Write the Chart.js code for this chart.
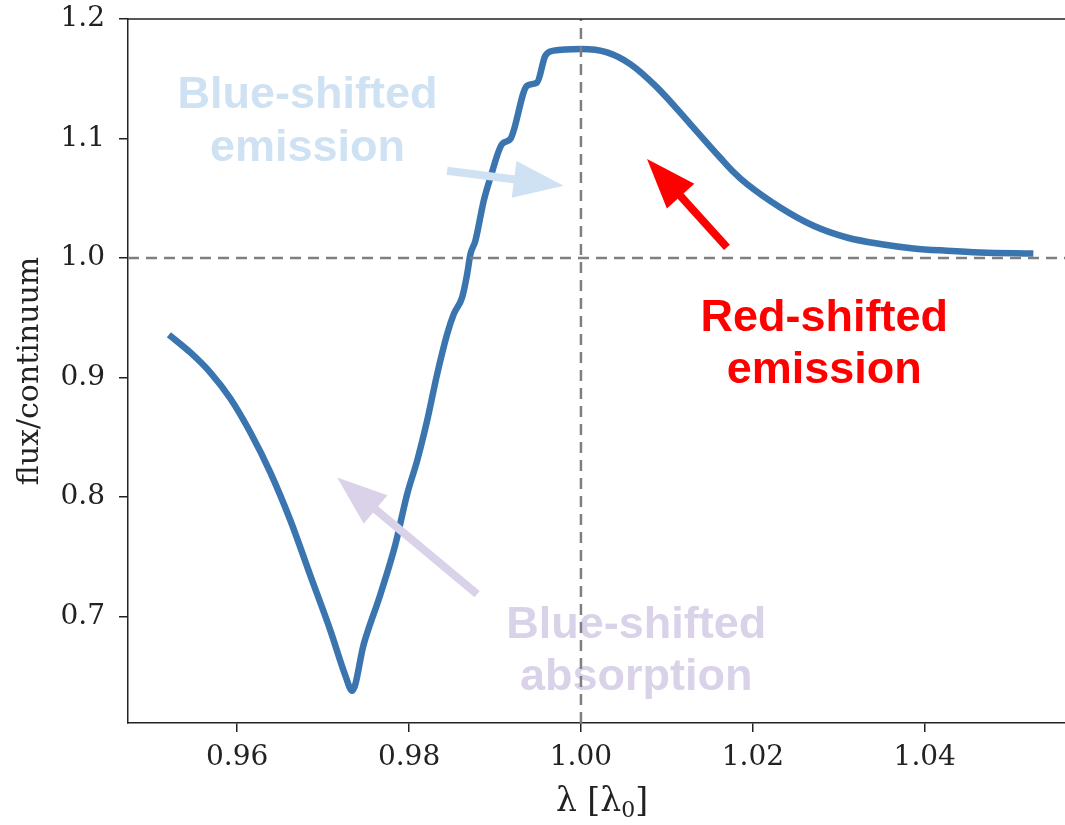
<!DOCTYPE html>
<html>
<head>
<meta charset="utf-8">
<script src="https://cdn.jsdelivr.net/npm/chart.js@4.4.1/dist/chart.umd.min.js"></script>
<style>
html,body{margin:0;padding:0;background:#fff;overflow:hidden;}
canvas{display:block;}
</style>
</head>
<body>
<canvas id="c" width="1077" height="825"></canvas>
<script>
// ---- data ----
const wavelength = [0.95206,0.95458,0.95691,0.95923,0.96156,0.96388,0.96621,0.96853,0.97086,0.97260,0.97338,0.97473,0.97667,0.97842,0.97978,0.98094,0.98210,0.98327,0.98443,0.98520,0.98617,0.98676,0.98714,0.98772,0.98869,0.98947,0.99083,0.99179,0.99373,0.99490,0.99586,0.99683,1.00000,1.00303,1.00574,1.00885,1.01272,1.01621,1.01772,1.01931,1.02319,1.02706,1.03094,1.03481,1.03869,1.04257,1.04644,1.05264];
const flux = [0.9358,0.9208,0.9040,0.8823,0.8538,0.8203,0.7802,0.7341,0.6881,0.6505,0.6379,0.6770,0.7188,0.7607,0.8025,0.8304,0.8638,0.9029,0.9364,0.9531,0.9670,0.9866,1.0033,1.0145,1.0480,1.0674,1.0954,1.0996,1.1442,1.1469,1.1693,1.1735,1.1749,1.1721,1.1623,1.1428,1.1121,1.0839,1.0722,1.0619,1.0423,1.0270,1.0172,1.0117,1.0080,1.0061,1.0047,1.0038];
const xTicks = [0.96, 0.98, 1.00, 1.02, 1.04];
const yTicks = [0.7, 0.8, 0.9, 1.0, 1.1, 1.2];
const xRange = [0.9473, 1.0576];
const yRange = [0.611, 1.2];
const refLambda = 1.0;
const refFlux = 1.0;

// annotation labels (data coordinates)
const labelLines = [["Blue-shifted","emission"],["Blue-shifted","absorption"],["Red-shifted","emission"]];
const labelX = [0.96819, 1.00644, 1.02830];
const labelY = [[1.1358,1.0915],[0.6923,0.6488],[0.9492,0.9057]];
const labelColor = ["#cfe2f3","#d9d2e9","#ff0000"];
// arrows: tail -> tip (data coordinates)
const arrowTail = [[0.98443,1.0731],[0.98792,0.7188],[1.01699,1.0089]];
const arrowTip  = [[0.99799,1.0605],[0.97164,0.8164],[1.00769,1.0828]];

const points = wavelength.map((w,i)=>({x:w,y:flux[i]}));

function drawArrow(ctx,x1,y1,x2,y2,color,shaftW,headLen,headW){
  const dx=x2-x1, dy=y2-y1, L=Math.hypot(dx,dy);
  const ux=dx/L, uy=dy/L, nx=-uy, ny=ux;
  const bx=x2-ux*headLen, by=y2-uy*headLen;
  ctx.save();
  ctx.fillStyle=color;
  ctx.beginPath();
  ctx.moveTo(x1+nx*shaftW/2,y1+ny*shaftW/2);
  ctx.lineTo(bx+nx*shaftW/2+ux*1,by+ny*shaftW/2+uy*1);
  ctx.lineTo(bx-nx*shaftW/2+ux*1,by-ny*shaftW/2+uy*1);
  ctx.lineTo(x1-nx*shaftW/2,y1-ny*shaftW/2);
  ctx.closePath();
  ctx.fill();
  ctx.beginPath();
  ctx.moveTo(x2,y2);
  ctx.lineTo(bx+nx*headW/2,by+ny*headW/2);
  ctx.lineTo(bx-nx*headW/2,by-ny*headW/2);
  ctx.closePath();
  ctx.fill();
  ctx.restore();
}

const serif = '"DejaVu Serif", serif';

const annotPlugin = {
  id:'annot',
  beforeDatasetsDraw(chart){
    const ctx=chart.ctx, sx=chart.scales.x, sy=chart.scales.y;
    ctx.save();
    ctx.font='bold 45px "Liberation Sans", Arial, sans-serif';
    ctx.textAlign='center';
    ctx.textBaseline='middle';
    labelLines.forEach((lines,i)=>{
      ctx.fillStyle=labelColor[i];
      lines.forEach((t,j)=>{
        ctx.fillText(t, sx.getPixelForValue(labelX[i]), sy.getPixelForValue(labelY[i][j]));
      });
    });
    ctx.restore();
  },
  afterDatasetsDraw(chart){
    const ctx=chart.ctx, sx=chart.scales.x, sy=chart.scales.y;
    arrowTail.forEach((t,i)=>{
      drawArrow(ctx, sx.getPixelForValue(t[0]), sy.getPixelForValue(t[1]),
        sx.getPixelForValue(arrowTip[i][0]), sy.getPixelForValue(arrowTip[i][1]),
        labelColor[i], 8, 50, 37);
    });
    const a=chart.chartArea;
    ctx.save();
    ctx.strokeStyle='#222';
    ctx.lineWidth=1.5;
    ctx.beginPath();
    ctx.moveTo(a.left,a.top);ctx.lineTo(a.right,a.top);
    ctx.moveTo(a.right,a.top);ctx.lineTo(a.right,a.bottom);
    ctx.stroke();
    // x-axis title with subscript
    const cx=(a.left+a.right)/2, cy=800;
    const big='33px '+serif, small='22px '+serif;
    ctx.fillStyle='#222';
    ctx.textBaseline='alphabetic';
    ctx.textAlign='left';
    ctx.font=big; const w1=ctx.measureText('λ [λ').width, w3=ctx.measureText(']').width;
    ctx.font=small; const w2=ctx.measureText('0').width;
    let x0=cx-(w1+w2+w3)/2; const base=cy+11;
    ctx.font=big; ctx.fillText('λ [λ',x0,base);
    ctx.font=small; ctx.fillText('0',x0+w1,base+6);
    ctx.font=big; ctx.fillText(']',x0+w1+w2,base);
    ctx.restore();
  }
};

const tickFont = {family:serif, size:28};

new Chart(document.getElementById('c'),{
  type:'line',
  data:{datasets:[
    {data:points, borderColor:'rgb(58,117,176)', borderWidth:6.5, pointRadius:0, fill:false,
     cubicInterpolationMode:'monotone', borderCapStyle:'butt', borderJoinStyle:'round', order:2},
    {data:[{x:xRange[0],y:refFlux},{x:xRange[1],y:refFlux}], borderColor:'#7f7f7f', borderWidth:2.5,
     borderDash:[11,7], pointRadius:0, fill:false, order:1},
    {data:[{x:refLambda,y:yRange[0]},{x:refLambda,y:yRange[1]}], borderColor:'#7f7f7f', borderWidth:2.5,
     borderDash:[11,7], pointRadius:0, fill:false, order:1}
  ]},
  options:{
    responsive:false, animation:false, devicePixelRatio:1,
    layout:{padding:{top:19,right:1,left:0,bottom:0}},
    plugins:{legend:{display:false}, tooltip:{enabled:false}},
    scales:{
      x:{type:'linear', min:xRange[0], max:xRange[1],
        afterBuildTicks(s){ s.ticks = xTicks.map(v=>({value:v})); },
        afterFit(s){ s.height=102; s.paddingLeft=0; s.paddingRight=0; },
        ticks:{font:tickFont, color:'#222', padding:9, maxRotation:0, autoSkip:false,
          callback:(v)=>Number(v).toFixed(2)},
        grid:{drawOnChartArea:false, drawTicks:true, tickLength:9, color:'#222', lineWidth:1.5},
        border:{display:true, color:'#222', width:1.5},
        title:{display:false}
      },
      y:{type:'linear', min:yRange[0], max:yRange[1],
        afterBuildTicks(s){ s.ticks = yTicks.map(v=>({value:v})); },
        afterFit(s){ s.width=128; s.paddingTop=0; s.paddingBottom=0; },
        ticks:{font:tickFont, color:'#222', padding:14, autoSkip:false,
          callback:(v)=>Number(v).toFixed(1)},
        grid:{drawOnChartArea:false, drawTicks:true, tickLength:9, color:'#222', lineWidth:1.5},
        border:{display:true, color:'#222', width:1.5},
        title:{display:true, text:'flux/continuum', color:'#222', font:{family:serif, size:30}, padding:{top:12,bottom:0}}
      }
    }
  },
  plugins:[annotPlugin]
});
</script>
</body>
</html>
